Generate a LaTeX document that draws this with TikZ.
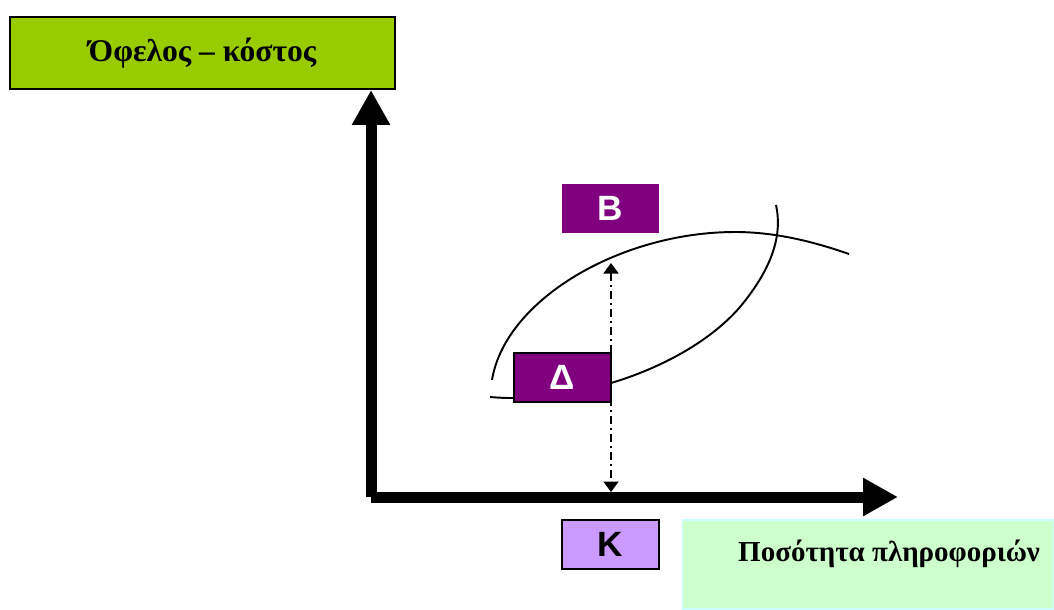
\documentclass[tikz,border=0pt]{standalone}
\usepackage{fontspec}
\setmainfont{Liberation Serif}
\newfontfamily\labelfont{Liberation Sans}
\usetikzlibrary{arrows.meta}
\definecolor{titlegreen}{HTML}{99CC00}
\definecolor{boxpurple}{HTML}{800080}
\definecolor{lavender}{HTML}{CC99FF}
\definecolor{palegreen}{HTML}{CCFFCC}
\definecolor{palecyan}{HTML}{CCFFFF}
\begin{document}
\begin{tikzpicture}[x=0.02cm, y=-0.02cm,
    axis/.style={line width=0.22cm, -{Triangle[length=0.7cm, width=0.72cm]}},
    curve/.style={line width=1.1pt},
    gap/.style={line width=1pt, dash pattern=on 4.5pt off 2.3pt on 1.1pt off 2.3pt,
        {Triangle[length=0.21cm, width=0.3cm]}-{Triangle[length=0.21cm, width=0.3cm]}},
    letterbox/.style={minimum width=1.94cm, minimum height=0.98cm, inner sep=0pt,
        font=\labelfont\bfseries\fontsize{20}{24}\selectfont},
    titlebox/.style={draw=black, line width=1pt, fill=titlegreen, minimum width=7.7cm,
        minimum height=1.44cm, inner sep=0pt, font=\bfseries\fontsize{18}{22}\selectfont}]
    \useasboundingbox (0,0) rectangle (1054,609);

    % axes
    \coordinate (O) at (371,497);
    \coordinate (ytip) at (371,90);
    \coordinate (xtip) at (898,497);
    \draw[axis] (O) -- (ytip);
    \draw[axis] (O) -- (xtip);

    % benefit and cost curves
    \draw[curve] (492,380) .. controls (505,300) and (620,232) .. (735,232)
        .. controls (780,232) and (820,244) .. (849,254);
    \draw[curve] (490,397) .. controls (580,405) and (690,365) .. (740,307)
        .. controls (775,265) and (782,232) .. (776,205);

    % dash-dot gap
    \coordinate (benefit) at (611,263);
    \coordinate (base) at (611,492);
    \draw[gap] (benefit) -- (base);

    % labels
    \node[titlebox] (title) at (202.5,53) {Όφελος – κόστος};
    \node[letterbox, fill=boxpurple, text=white] (B) at (610.5,208.5) {B};
    \node[letterbox, fill=boxpurple, draw=black, line width=1pt, text=white] (D) at (562.5,377.5) {Δ};
    \node[letterbox, fill=lavender, draw=black, line width=1pt] (K) at (610.5,544.5) {K};
    \node[fill=palegreen, draw=palecyan, line width=0.6pt, minimum height=1.78cm,
        text width=6.88cm, align=flush right, inner xsep=0.28cm, inner ysep=0pt,
        text height=0.4cm, text depth=0.54cm,
        font=\bfseries\fontsize{16.5}{20}\selectfont] (qty) at (868,564.5) {Ποσότητα πληροφοριών};
\end{tikzpicture}
\end{document}
